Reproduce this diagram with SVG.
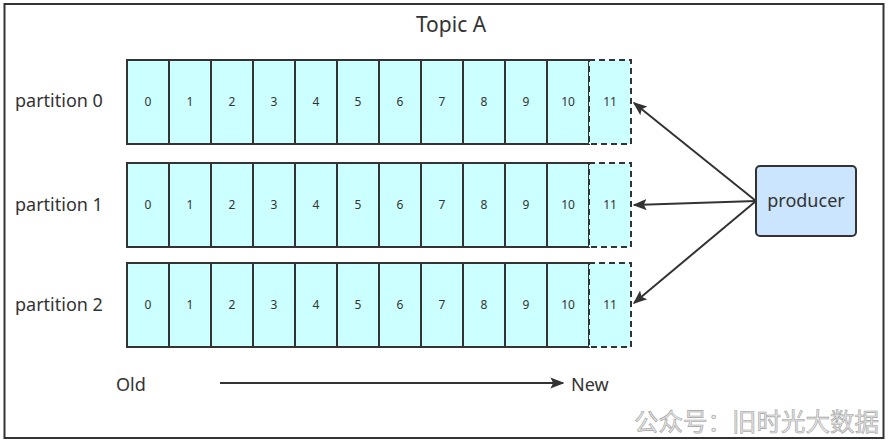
<svg xmlns="http://www.w3.org/2000/svg" width="890" height="442" viewBox="0 0 890 442">
<defs>
<style>
text{font-family:"Noto Sans","Open Sans",sans-serif;fill:#333}
.cell{fill:#ccffff;stroke:#333;stroke-width:2}
.dash{fill:#ccffff;stroke:#333;stroke-width:2;stroke-dasharray:6 4}
.num{font-size:12px;text-anchor:middle}
.lbl{font-size:18px}
.conn{stroke:#333;stroke-width:2;fill:none}
</style>
<marker id="ah2" viewBox="0 0 10 10" refX="9" refY="5" markerWidth="14" markerHeight="14" orient="auto" markerUnits="userSpaceOnUse">
<path d="M0,1 L10,5 L0,9 L2,5 z" fill="#333"/>
</marker>
</defs>
<rect x="0" y="0" width="890" height="442" fill="#fff"/>
<rect x="4.5" y="4" width="879" height="434" fill="#fff" stroke="#333" stroke-width="2"/>
<g id="title"><text x="451" y="32" font-size="21" text-anchor="middle">Topic A</text></g>

<g id="partition0">
<text x="15" y="107" class="lbl">partition 0</text>
<rect class="cell" x="127" y="60" width="42" height="84"/><text class="num" x="148" y="106">0</text>
<rect class="cell" x="169" y="60" width="42" height="84"/><text class="num" x="190" y="106">1</text>
<rect class="cell" x="211" y="60" width="42" height="84"/><text class="num" x="232" y="106">2</text>
<rect class="cell" x="253" y="60" width="42" height="84"/><text class="num" x="274" y="106">3</text>
<rect class="cell" x="295" y="60" width="42" height="84"/><text class="num" x="316" y="106">4</text>
<rect class="cell" x="337" y="60" width="42" height="84"/><text class="num" x="358" y="106">5</text>
<rect class="cell" x="379" y="60" width="42" height="84"/><text class="num" x="400" y="106">6</text>
<rect class="cell" x="421" y="60" width="42" height="84"/><text class="num" x="442" y="106">7</text>
<rect class="cell" x="463" y="60" width="42" height="84"/><text class="num" x="484" y="106">8</text>
<rect class="cell" x="505" y="60" width="42" height="84"/><text class="num" x="526" y="106">9</text>
<rect class="cell" x="547" y="60" width="42" height="84"/><text class="num" x="568" y="106">10</text>
<rect class="dash" x="589" y="60" width="42" height="84"/><text class="num" x="610" y="106">11</text>
</g>

<g id="partition1">
<text x="15" y="211" class="lbl">partition 1</text>
<rect class="cell" x="127" y="163" width="42" height="84"/><text class="num" x="148" y="209">0</text>
<rect class="cell" x="169" y="163" width="42" height="84"/><text class="num" x="190" y="209">1</text>
<rect class="cell" x="211" y="163" width="42" height="84"/><text class="num" x="232" y="209">2</text>
<rect class="cell" x="253" y="163" width="42" height="84"/><text class="num" x="274" y="209">3</text>
<rect class="cell" x="295" y="163" width="42" height="84"/><text class="num" x="316" y="209">4</text>
<rect class="cell" x="337" y="163" width="42" height="84"/><text class="num" x="358" y="209">5</text>
<rect class="cell" x="379" y="163" width="42" height="84"/><text class="num" x="400" y="209">6</text>
<rect class="cell" x="421" y="163" width="42" height="84"/><text class="num" x="442" y="209">7</text>
<rect class="cell" x="463" y="163" width="42" height="84"/><text class="num" x="484" y="209">8</text>
<rect class="cell" x="505" y="163" width="42" height="84"/><text class="num" x="526" y="209">9</text>
<rect class="cell" x="547" y="163" width="42" height="84"/><text class="num" x="568" y="209">10</text>
<rect class="dash" x="589" y="163" width="42" height="84"/><text class="num" x="610" y="209">11</text>
</g>

<g id="partition2">
<text x="15" y="311" class="lbl">partition 2</text>
<rect class="cell" x="127" y="263" width="42" height="84"/><text class="num" x="148" y="309">0</text>
<rect class="cell" x="169" y="263" width="42" height="84"/><text class="num" x="190" y="309">1</text>
<rect class="cell" x="211" y="263" width="42" height="84"/><text class="num" x="232" y="309">2</text>
<rect class="cell" x="253" y="263" width="42" height="84"/><text class="num" x="274" y="309">3</text>
<rect class="cell" x="295" y="263" width="42" height="84"/><text class="num" x="316" y="309">4</text>
<rect class="cell" x="337" y="263" width="42" height="84"/><text class="num" x="358" y="309">5</text>
<rect class="cell" x="379" y="263" width="42" height="84"/><text class="num" x="400" y="309">6</text>
<rect class="cell" x="421" y="263" width="42" height="84"/><text class="num" x="442" y="309">7</text>
<rect class="cell" x="463" y="263" width="42" height="84"/><text class="num" x="484" y="309">8</text>
<rect class="cell" x="505" y="263" width="42" height="84"/><text class="num" x="526" y="309">9</text>
<rect class="cell" x="547" y="263" width="42" height="84"/><text class="num" x="568" y="309">10</text>
<rect class="dash" x="589" y="263" width="42" height="84"/><text class="num" x="610" y="309">11</text>
</g>

<g id="producer">
<rect x="756" y="166" width="100" height="70" rx="4" fill="#cce5ff" stroke="#333" stroke-width="2"/>
<text x="806" y="207" class="lbl" text-anchor="middle">producer</text>
</g>

<g id="connectors">
<line class="conn" x1="756" y1="201" x2="634" y2="103" marker-end="url(#ah2)"/>
<line class="conn" x1="756" y1="201" x2="634" y2="205" marker-end="url(#ah2)"/>
<line class="conn" x1="756" y1="201" x2="634" y2="303" marker-end="url(#ah2)"/>
<line class="conn" x1="220" y1="383" x2="563" y2="383" marker-end="url(#ah2)"/>
</g>

<g id="timeline">
<text x="116" y="391" class="lbl">Old</text>
<text x="571" y="391" class="lbl">New</text>
</g>

<g id="watermark">
<text x="879" y="431" font-size="24.5" text-anchor="end" style="font-family:'Noto Sans CJK SC',sans-serif;fill:#e6e6e6;stroke:#a0a0a0;stroke-width:0.6">公众号：旧时光大数据</text>
</g>
</svg>
